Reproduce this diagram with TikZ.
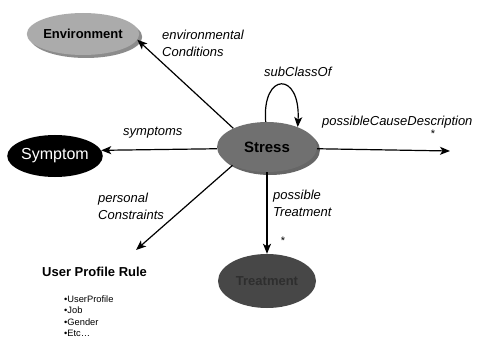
\documentclass[tikz,border=0pt]{standalone}
\usepackage{fontspec}
\setmainfont{Liberation Sans}
\usetikzlibrary{shapes.geometric,arrows.meta,shadows}
\definecolor{envfill}{HTML}{ABABAB}
\definecolor{stressfill}{HTML}{707070}
\definecolor{treatfill}{HTML}{474747}
\definecolor{treattext}{HTML}{2E2E2E}
\begin{document}
\begin{tikzpicture}[x=1pt,y=-1pt,
  concept/.style={ellipse,inner sep=0pt,draw=none},
  lab/.style={inner sep=0pt,anchor=west,align=left,font=\fontsize{13}{17}\selectfont\itshape},
  rel/.style={line width=1.2pt,-{Stealth[length=10pt,width=8pt,inset=2.5pt]}},
  star/.style={inner sep=0pt,font=\fontsize{11}{11}\selectfont}]
\useasboundingbox (0,0) rectangle (480,345);
% concepts
\node[concept,fill=envfill,minimum width=90pt,minimum height=42pt,
      drop shadow={shadow xshift=3pt,shadow yshift=-3pt,fill=black,opacity=.45},
      font=\fontsize{13}{13}\selectfont\bfseries] (env) at (83,34) {Environment};
\node[concept,fill=stressfill,minimum width=100pt,minimum height=50pt,
      drop shadow={shadow xshift=3pt,shadow yshift=-3pt,fill=black,opacity=.6},
      font=\fontsize{15}{15}\selectfont\bfseries] (stress) at (267,147) {Stress};
\node[concept,fill=black,text=white,minimum width=95pt,minimum height=42pt,
      font=\fontsize{16}{16}\selectfont] (symptom) at (55,156) {Symptom};
\node[concept,fill=treatfill,text=treattext,minimum width=98pt,minimum height=54pt,
      font=\fontsize{13}{13}\selectfont\bfseries] (treat) at (267,281) {Treatment};
% user profile rule
\node[inner sep=0pt,anchor=west,font=\fontsize{13}{13}\selectfont\bfseries] (upr) at (42,272) {User Profile Rule};
\node[inner sep=0pt,anchor=west,align=left,font=\fontsize{9.3}{11.5}\selectfont] (uprlist) at (64,316)
  {•UserProfile\\•Job\\•Gender\\•Etc…};
% free ends
\coordinate (causeEnd) at (450,151);
\coordinate (uprEnd) at (136,250);
% connectors
\draw[rel] (stress.151) -- (env.-6);
\draw[rel] (stress.182) -- (symptom.7);
\draw[rel] (stress.-2) -- (causeEnd);
\draw[rel] (stress.208) -- (uprEnd);
\draw[rel] (stress.south) -- (treat.north);
\draw[rel] (stress.93) .. controls +(-4,-50) and +(3,-56) .. (stress.33);
% labels
\node[lab] (lEnv) at (162,43) {environmental\\Conditions};
\node[lab] (lSub) at (264,72) {subClassOf};
\node[lab] (lCause) at (322,122) {possibleCauseDescription};
\node[star] (sCause) at (433,134) {*};
\node[lab] (lSym) at (123,133) {symptoms};
\node[lab] (lPers) at (98,206) {personal\\Constraints};
\node[lab] (lTreat) at (273,203) {possible\\Treatment};
\node[star] (sTreat) at (283,241) {*};
\end{tikzpicture}
\end{document}
